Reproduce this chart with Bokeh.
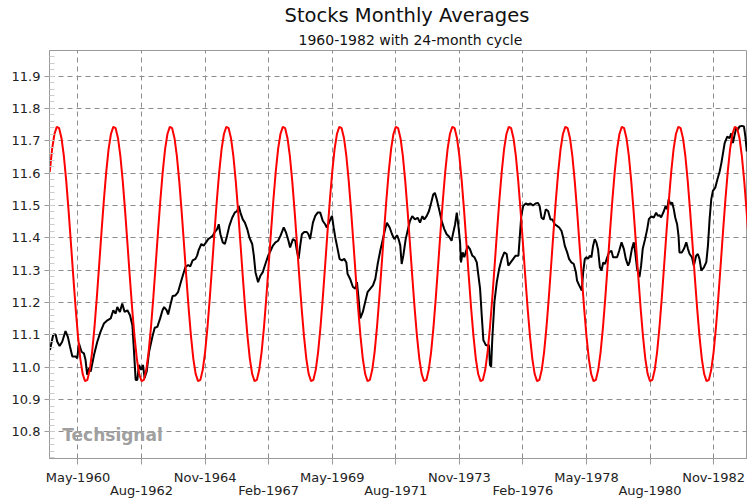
from bokeh.plotting import figure
from bokeh.models import Range1d, FixedTicker, Title, Label, PrintfTickFormatter, LinearAxis
from bokeh.embed import file_html
from bokeh.resources import INLINE

# ---------------- data ----------------
title_text = "Stocks Monthly Averages"
subtitle_text = "1960-1982 with 24-month cycle"
watermark_text = "Techsignal"

# x values are months counted from Jan-1959 (0 = Jan-1959)
tick_labels = ["May-1960", "Aug-1962", "Nov-1964", "Feb-1967", "May-1969", "Aug-1971",
               "Nov-1973", "Feb-1976", "May-1978", "Aug-1980", "Nov-1982"]
y_ticks = [10.8, 10.9, 11.0, 11.1, 11.2, 11.3, 11.4, 11.5, 11.6, 11.7, 11.8, 11.9]

# stock monthly averages
black_month = [
    4.1, 5.5, 6.5, 7.2, 8.2, 9.3, 10.7, 11.7, 12.6, 13.6, 15.0, 15.7, 16.4, 17.5, 18.5, 19.2,
    19.9, 20.7, 21.4, 22.8, 24.2, 25.6, 27.0, 28.5, 29.9, 31.0, 32.0, 32.7, 33.8, 34.8, 35.8,
    37.0, 38.1, 39.1, 39.8, 40.5, 41.2, 41.9, 42.9, 43.6, 44.3, 45.2, 46.2, 47.6, 48.6, 49.7,
    50.9, 51.9, 52.6, 53.7,
    54.3, 55.2, 56.2, 57.4, 58.5, 59.5, 60.5, 61.6, 62.8, 63.7, 64.7, 65.9, 66.6, 67.3, 68.4,
    69.4, 70.4, 71.3, 72.3, 73.2, 74.1, 75.1, 75.8, 76.5, 77.5, 78.4, 79.3, 80.3, 81.5, 82.6,
    83.6, 84.3, 85.0, 86.0, 86.9, 87.9, 88.8, 90.0, 90.7, 91.4, 92.5, 93.5, 94.5, 95.6, 96.8,
    97.8, 98.8, 99.9, 101.0, 102.0, 103.4,
    104.4, 105.4, 106.1, 107.3, 108.3, 109.0, 109.7, 110.4, 111.1, 112.1, 113.2, 113.9, 114.6,
    115.8, 116.8, 117.8, 118.9, 120.0, 121.0, 121.7, 122.9, 123.9, 124.6, 125.3, 126.3, 127.1,
    128.1, 129.1, 130.0, 130.5, 131.6, 132.8, 133.8, 134.5, 135.2, 135.9, 137.0, 138.0, 139.0,
    140.2, 141.3, 142.3, 143.3, 144.4, 145.5, 146.5, 147.2, 148.4, 149.4, 150.4, 151.5, 152.2,
    152.9,
    153.5, 154.2, 155.2, 156.0, 157.0, 158.0, 159.1, 160.3, 161.3, 162.3, 163.1, 164.1, 165.1,
    166.0, 166.9, 167.6, 168.4, 169.4, 170.5, 171.6, 172.6, 173.6, 174.7, 175.4, 176.2, 176.9,
    177.6, 178.3, 178.7, 179.4, 180.1, 180.7, 181.5, 182.5, 183.5, 184.4, 185.4, 186.1, 186.8,
    187.5, 188.2, 189.2, 190.0, 190.6, 191.0, 191.5, 192.0, 192.9, 193.9, 194.9, 196.0, 197.1,
    198.1, 198.8, 199.8, 200.9, 201.9, 203.1,
    203.6, 204.3, 205.1, 206.2, 207.2, 208.2, 209.3, 210.4, 211.4, 212.1, 212.9, 213.8, 214.7,
    215.7, 216.7, 217.5, 218.5, 219.5, 220.4, 221.4, 222.1, 222.8, 223.8, 224.6, 225.6, 226.6,
    227.5, 228.0, 228.9, 229.6, 230.0, 230.6, 231.3, 232.0, 232.7, 233.4, 234.1, 234.8, 235.5,
    236.2, 236.9, 237.7, 238.4, 239.1, 239.9, 240.8, 241.6, 242.6, 243.3, 244.0, 245.0, 245.9,
    246.9, 247.9, 248.7, 249.7,
    250.3, 251.3, 252.1, 252.7, 253.5, 254.5, 255.2, 255.9, 256.9, 257.8, 258.5, 259.5, 260.6,
    261.6, 262.3, 263.0, 263.7, 264.9, 265.6, 266.3, 266.9, 267.7, 268.4, 269.1, 269.7, 270.5,
    271.1, 271.5, 272.5, 273.4, 274.4, 275.1, 275.8, 276.8, 277.6, 278.6, 279.3, 280.0, 280.8,
    281.9, 282.9, 283.6, 284.3, 285.0, 285.7, 286.7, 287.6, 288.6, 289.3, 290.0, 290.7, 291.8,
    292.8, 293.5, 294.2, 294.9, 295.6, 296.3, 297.0, 298.0, 298.9, 299.5, 300.1,
]
black_value = [
    11.053, 11.101, 11.101, 11.079, 11.066, 11.079, 11.112, 11.094, 11.064, 11.033, 11.033,
    11.028, 11.074, 11.048, 11.043, 11.023, 10.977, 10.997, 10.987, 11.038, 11.079, 11.110,
    11.135, 11.145, 11.151, 11.176, 11.166, 11.186, 11.171, 11.197, 11.171, 11.176, 11.161,
    11.130, 11.048, 10.961, 10.961, 11.007, 10.992, 11.007, 10.967, 10.987, 11.048, 11.094,
    11.122, 11.125, 11.151, 11.176, 11.186, 11.176,
    11.163, 11.191, 11.220, 11.222, 11.232, 11.258, 11.283, 11.309, 11.316, 11.312, 11.330,
    11.335, 11.345, 11.363, 11.381, 11.376, 11.386, 11.396, 11.401, 11.406, 11.418, 11.427,
    11.442, 11.411, 11.386, 11.381, 11.406, 11.437, 11.462, 11.478, 11.483, 11.498, 11.478,
    11.457, 11.447, 11.427, 11.401, 11.381, 11.345, 11.294, 11.263, 11.283, 11.294, 11.319,
    11.345, 11.360, 11.376, 11.386, 11.391, 11.406, 11.432,
    11.416, 11.391, 11.370, 11.396, 11.391, 11.360, 11.335, 11.376, 11.411, 11.418, 11.418,
    11.411, 11.396, 11.447, 11.468, 11.478, 11.478, 11.452, 11.442, 11.432, 11.452, 11.468,
    11.432, 11.401, 11.365, 11.335, 11.330, 11.335, 11.324, 11.289, 11.273, 11.248, 11.243,
    11.263, 11.212, 11.151, 11.171, 11.202, 11.232, 11.243, 11.253, 11.273, 11.319, 11.360,
    11.396, 11.427, 11.447, 11.432, 11.411, 11.396, 11.408, 11.396, 11.376,
    11.319, 11.345, 11.396, 11.421, 11.452, 11.467, 11.457, 11.462, 11.447, 11.467, 11.457,
    11.467, 11.483, 11.508, 11.534, 11.539, 11.519, 11.488, 11.452, 11.427, 11.411, 11.404,
    11.391, 11.416, 11.442, 11.478, 11.437, 11.386, 11.324, 11.355, 11.340, 11.355, 11.375,
    11.365, 11.345, 11.340, 11.324, 11.283, 11.243, 11.161, 11.084, 11.069, 11.067, 11.069,
    11.007, 11.002, 11.089, 11.202, 11.263, 11.304, 11.335, 11.355, 11.350, 11.314, 11.324,
    11.335, 11.345, 11.345,
    11.396, 11.467, 11.498, 11.506, 11.503, 11.506, 11.500, 11.506, 11.508, 11.498, 11.462,
    11.457, 11.488, 11.483, 11.457, 11.457, 11.442, 11.437, 11.432, 11.421, 11.401, 11.375,
    11.355, 11.335, 11.324, 11.319, 11.294, 11.268, 11.253, 11.243, 11.237, 11.294, 11.335,
    11.340, 11.335, 11.345, 11.340, 11.375, 11.396, 11.386, 11.365, 11.309, 11.299, 11.324,
    11.319, 11.340, 11.355, 11.360, 11.340, 11.340, 11.340, 11.360, 11.386, 11.365, 11.335,
    11.314,
    11.325, 11.366, 11.386, 11.355, 11.304, 11.279, 11.314, 11.366, 11.396, 11.427, 11.458,
    11.466, 11.463, 11.478, 11.468, 11.470, 11.463, 11.483, 11.498, 11.488, 11.519, 11.504,
    11.509, 11.488, 11.463, 11.442, 11.406, 11.355, 11.355, 11.366, 11.386, 11.366, 11.350,
    11.340, 11.314, 11.345, 11.350, 11.335, 11.299, 11.309, 11.325, 11.376, 11.458, 11.519,
    11.545, 11.555, 11.580, 11.606, 11.631, 11.662, 11.693, 11.713, 11.708, 11.723, 11.693,
    11.718, 11.739, 11.734, 11.744, 11.746, 11.744, 11.713, 11.667,
]

# 24-month cycle: value for each month of the cycle (index = month mod 24)
cycle_values = [11.215, 11.316, 11.419, 11.517, 11.604, 11.674, 11.721, 11.743,
                11.739, 11.708, 11.653, 11.577, 11.485, 11.384, 11.281, 11.183,
                11.096, 11.026, 10.979, 10.957, 10.961, 10.992, 11.047, 11.123]
cycle_first_month = 4    # May-1959
cycle_last_month = 301   # Feb-1984

# ---------------- derived ----------------
MONTHS = {"Jan": 0, "Feb": 1, "Mar": 2, "Apr": 3, "May": 4, "Jun": 5, "Jul": 6,
          "Aug": 7, "Sep": 8, "Oct": 9, "Nov": 10, "Dec": 11}


def label_to_month(lbl):
    mon, yr = lbl.split("-")
    return (int(yr) - 1959) * 12 + MONTHS[mon]


tick_months = [label_to_month(l) for l in tick_labels]
upper_overrides = {m: (l if i % 2 == 0 else "") for i, (m, l) in enumerate(zip(tick_months, tick_labels))}
lower_ticks = [m for i, m in enumerate(tick_months) if i % 2 == 1]
lower_overrides = {m: l for i, (m, l) in enumerate(zip(tick_months, tick_labels)) if i % 2 == 1}

red_month = list(range(cycle_first_month, cycle_last_month + 1))
red_value = [cycle_values[m % 24] for m in red_month]

# ---------------- figure ----------------
FONT = "DejaVu Sans"
GRID = "#8c8c8c"
AXIS = "#9a9a9a"
TXT = "#222222"

p = figure(width=747, height=500, output_backend="svg", toolbar_location=None,
           x_range=Range1d(3.9, 300.4), y_range=Range1d(10.718, 11.979),
           min_border_left=49, min_border_right=0, min_border_top=50, min_border_bottom=39,
           background_fill_color="white", border_fill_color="white")

p.add_layout(Title(text=subtitle_text, align="left", text_font=FONT, text_font_size="14px",
                   text_font_style="normal", text_color="#111111", standoff=6, offset=249), "above")
p.add_layout(Title(text=title_text, align="left", text_font=FONT, text_font_size="19.5px",
                   text_font_style="normal", text_color="#111111", standoff=0, offset=235), "above")

p.outline_line_color = AXIS
p.outline_line_width = 1

# x axis (upper label row)
p.xaxis.ticker = FixedTicker(ticks=tick_months)
p.xaxis.major_label_overrides = upper_overrides
p.xaxis.major_label_text_font = FONT
p.xaxis.major_label_text_font_size = "13px"
p.xaxis.major_label_text_color = TXT
p.xaxis.major_label_standoff = 5
p.xaxis.major_tick_out = 6
p.xaxis.major_tick_in = 0
p.xaxis.minor_tick_line_color = None
p.xaxis.axis_line_color = AXIS
p.xaxis.major_tick_line_color = AXIS

# second x axis (lower label row)
ax2 = LinearAxis(ticker=FixedTicker(ticks=lower_ticks), major_label_overrides=lower_overrides,
                 major_label_text_font=FONT, major_label_text_font_size="13px",
                 major_label_text_color=TXT, major_label_standoff=-5,
                 major_tick_out=0, major_tick_in=0, major_tick_line_color=None,
                 minor_tick_line_color=None, axis_line_color=None)
p.add_layout(ax2, "below")

# y axis
minor = [round(10.72 + 0.02 * k, 2) for k in range(63)]
p.yaxis.ticker = FixedTicker(ticks=y_ticks, minor_ticks=minor)
p.yaxis.formatter = PrintfTickFormatter(format="%.1f")
p.yaxis.major_label_text_font = FONT
p.yaxis.major_label_text_font_size = "13px"
p.yaxis.major_label_text_color = TXT
p.yaxis.major_label_standoff = 4
p.yaxis.major_tick_out = 5
p.yaxis.major_tick_in = 0
p.yaxis.minor_tick_in = 5
p.yaxis.minor_tick_out = 0
p.yaxis.minor_tick_line_color = "#cccccc"
p.yaxis.axis_line_color = AXIS
p.yaxis.major_tick_line_color = AXIS

# grids
p.xgrid.ticker = FixedTicker(ticks=tick_months)
p.ygrid.ticker = FixedTicker(ticks=y_ticks)
for g in (p.xgrid, p.ygrid):
    g.grid_line_color = GRID
    g.grid_line_dash = "5 4"
    g.grid_line_width = 1

# series
p.line(black_month, black_value, line_color="#000000", line_width=2)
p.line(red_month, red_value, line_color="#ff0000", line_width=2)

# watermark
p.add_layout(Label(x=9.3, y=10.792, text=watermark_text, text_font=FONT, text_font_size="17px",
                   text_font_style="bold", text_color="#a0a0a0", text_baseline="middle",
                   text_align="left"))

open("out.html", "w").write(file_html(p, INLINE))
